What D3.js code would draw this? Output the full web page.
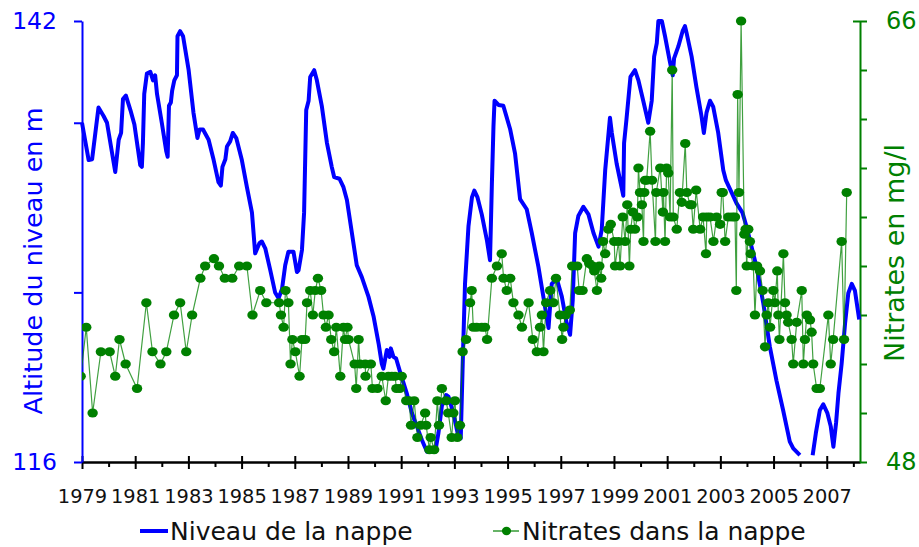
<!DOCTYPE html>
<html>
<head>
<meta charset="utf-8">
<script src="https://cdn.jsdelivr.net/npm/d3@7"></script>
<style>
    body { margin: 0; background: #fff; }
    svg text { font-family: "DejaVu Sans", Verdana, sans-serif; }
</style>
</head>
<body>
<div id="chart"></div>
<script>

// Niveau de la nappe (m), [année décimale, altitude] ; null = pas de mesure
const niveau = [
    [1979.00, 136.0], [1979.25, 133.8], [1979.38, 133.85], [1979.62, 136.9], [1979.81, 136.4],
    [1979.94, 136.0], [1980.25, 133.1], [1980.38, 135.0], [1980.47, 135.4], [1980.54, 137.4],
    [1980.65, 137.6], [1980.82, 136.75], [1980.97, 135.9], [1981.19, 133.5], [1981.25, 133.4],
    [1981.29, 134.8], [1981.34, 137.7], [1981.44, 138.9], [1981.57, 139.0], [1981.67, 138.5],
    [1981.75, 138.8], [1981.82, 137.7], [1982.00, 136.0], [1982.17, 134.3], [1982.22, 134.0],
    [1982.27, 137.0], [1982.34, 137.2], [1982.39, 137.9], [1982.47, 138.5], [1982.57, 138.8],
    [1982.59, 141.1], [1982.69, 141.4], [1982.80, 141.1], [1983.01, 139.1], [1983.19, 136.6],
    [1983.34, 135.1], [1983.42, 135.6], [1983.55, 135.6], [1983.76, 135.0], [1983.95, 133.8],
    [1984.13, 132.5], [1984.22, 132.3], [1984.28, 133.4], [1984.39, 133.85], [1984.45, 134.6],
    [1984.57, 134.9], [1984.67, 135.4], [1984.80, 135.1], [1985.01, 133.8], [1985.20, 132.2],
    [1985.39, 130.7], [1985.51, 128.3], [1985.67, 128.9], [1985.76, 129.0], [1985.89, 128.6],
    [1986.08, 127.3], [1986.26, 126.0], [1986.39, 125.65], [1986.52, 126.2], [1986.64, 127.6],
    [1986.76, 128.4], [1986.95, 128.4], [1987.08, 127.2], [1987.14, 127.3], [1987.27, 128.5],
    [1987.35, 130.7], [1987.43, 136.75], [1987.52, 137.3], [1987.58, 138.7], [1987.73, 139.1],
    [1987.83, 138.5], [1988.02, 136.95], [1988.21, 134.8], [1988.39, 133.4], [1988.48, 132.8],
    [1988.68, 132.7], [1988.83, 132.2], [1988.96, 131.45], [1989.33, 127.6], [1989.52, 126.9],
    [1989.77, 125.75], [1989.96, 124.6], [1990.15, 123.0], [1990.27, 121.8], [1990.33, 121.5],
    [1990.46, 122.6], [1990.56, 122.2], [1990.61, 122.7], [1990.71, 122.2], [1990.81, 122.1],
    [1990.96, 121.3], [1991.21, 120.05], [1991.40, 118.9], [1991.59, 118.1], [1991.78, 117.3],
    [1991.97, 116.6], [1992.28, 116.6], [1992.40, 117.7], [1992.53, 119.3], [1992.69, 119.95],
    [1992.78, 119.85], [1992.96, 118.9], [1993.15, 117.5], [1993.24, 117.4], [1993.32, 122.2],
    [1993.40, 126.5], [1993.53, 129.9], [1993.66, 131.6], [1993.75, 132.0], [1993.87, 131.6],
    [1994.03, 130.6], [1994.22, 129.1], [1994.34, 127.9], [1994.41, 132.4], [1994.47, 135.8],
    [1994.51, 137.3], [1994.66, 137.05], [1994.84, 137.0], [1995.10, 135.6], [1995.28, 134.2],
    [1995.47, 131.5], [1995.72, 130.9], [1995.91, 129.5], [1996.16, 127.5], [1996.35, 125.7],
    [1996.54, 123.9], [1996.66, 126.5], [1996.85, 126.8], [1997.04, 125.75], [1997.22, 124.2],
    [1997.35, 123.5], [1997.45, 125.55], [1997.54, 129.5], [1997.66, 130.5], [1997.85, 131.05],
    [1998.04, 130.6], [1998.23, 129.5], [1998.42, 128.7], [1998.54, 129.7], [1998.67, 133.2],
    [1998.85, 136.3], [1998.92, 135.4], [1999.10, 133.6], [1999.35, 131.7], [1999.38, 134.8],
    [1999.47, 136.2], [1999.62, 138.7], [1999.79, 139.1], [1999.92, 138.5], [2000.10, 137.3],
    [2000.29, 136.0], [2000.42, 137.3], [2000.51, 139.9], [2000.61, 140.7], [2000.67, 142.0],
    [2000.80, 142.0], [2000.92, 141.1], [2001.09, 139.7], [2001.21, 138.8], [2001.26, 139.8],
    [2001.42, 140.5], [2001.58, 141.4], [2001.67, 141.7], [2001.73, 141.3], [2001.92, 139.9],
    [2002.10, 138.1], [2002.29, 136.4], [2002.38, 135.4], [2002.48, 136.6], [2002.61, 137.3],
    [2002.73, 136.95], [2002.92, 135.4], [2003.11, 133.2], [2003.21, 132.6], [2003.42, 131.9],
    [2003.61, 131.25], [2003.83, 130.7], [2003.98, 129.9], [2004.17, 128.7], [2004.36, 127.5],
    [2004.61, 125.4], [2004.86, 122.8], [2005.11, 120.8], [2005.36, 119.05], [2005.61, 117.2],
    [2005.74, 116.8], [2005.99, 116.4], [2006.20, null], [2006.47, 116.4], [2006.59, 117.7],
    [2006.74, 119.05], [2006.87, 119.4], [2007.02, 118.9], [2007.15, 118.1], [2007.25, 116.9],
    [2007.35, 118.3], [2007.44, 120.05], [2007.56, 121.8], [2007.69, 124.2], [2007.81, 125.95],
    [2007.94, 126.5], [2008.06, 126.1], [2008.22, 124.4]
];

// Nitrates dans la nappe (mg/l), [année décimale, teneur]
const nitrates = [
    [1978.95, 51.5], [1979.16, 53.5], [1979.40, 50.0], [1979.71, 52.5], [1980.04, 52.5],
    [1980.25, 51.5], [1980.41, 53.0], [1980.64, 52.0], [1981.07, 51.0], [1981.42, 54.5],
    [1981.65, 52.5], [1981.95, 52.0], [1982.17, 52.5], [1982.46, 54.0], [1982.69, 54.5],
    [1982.92, 52.5], [1983.14, 54.0], [1983.45, 55.5], [1983.63, 56.0], [1983.96, 56.3],
    [1984.15, 56.0], [1984.37, 55.5], [1984.65, 55.5], [1984.91, 56.0], [1985.20, 56.0],
    [1985.41, 54.0], [1985.70, 55.0], [1985.93, 54.5], [1986.41, 54.5], [1986.48, 54.0],
    [1986.58, 53.5], [1986.65, 55.0], [1986.76, 54.5], [1986.84, 52.0], [1986.91, 53.0],
    [1987.02, 52.5], [1987.18, 51.5], [1987.27, 53.0], [1987.39, 53.0], [1987.46, 54.5],
    [1987.58, 55.0], [1987.68, 54.0], [1987.77, 55.0], [1987.87, 55.5], [1987.99, 55.0],
    [1988.08, 54.0], [1988.17, 53.5], [1988.27, 54.0], [1988.37, 53.0], [1988.48, 52.5],
    [1988.56, 53.5], [1988.71, 51.5], [1988.83, 53.5], [1988.89, 53.0], [1988.98, 53.5],
    [1989.02, 53.0], [1989.25, 52.0], [1989.31, 51.0], [1989.40, 53.0], [1989.45, 52.0],
    [1989.65, 52.0], [1989.66, 51.5], [1989.86, 52.0], [1989.92, 51.0], [1990.11, 51.0],
    [1990.27, 51.5], [1990.42, 50.5], [1990.52, 51.5], [1990.65, 51.5], [1990.77, 51.5],
    [1990.82, 51.0], [1990.95, 51.0], [1991.02, 51.5], [1991.19, 50.5], [1991.30, 50.5],
    [1991.37, 49.5], [1991.49, 50.5], [1991.61, 49.0], [1991.74, 49.5], [1991.90, 50.0],
    [1991.94, 49.5], [1992.06, 48.5], [1992.11, 49.0], [1992.24, 48.5], [1992.36, 50.5],
    [1992.42, 49.5], [1992.53, 51.0], [1992.69, 50.5], [1992.77, 50.0], [1992.90, 49.0],
    [1992.96, 50.0], [1993.02, 50.5], [1993.11, 49.0], [1993.21, 49.5], [1993.31, 52.5],
    [1993.44, 53.0], [1993.59, 54.5], [1993.65, 55.0], [1993.71, 53.5], [1993.84, 53.5],
    [1994.03, 53.5], [1994.15, 53.5], [1994.23, 53.0], [1994.41, 55.5], [1994.60, 56.0],
    [1994.78, 56.5], [1994.85, 55.5], [1994.97, 55.0], [1995.10, 55.5], [1995.22, 54.5],
    [1995.41, 54.0], [1995.54, 53.5], [1995.79, 54.5], [1995.95, 53.0], [1996.10, 52.5],
    [1996.22, 53.5], [1996.29, 54.0], [1996.35, 52.5], [1996.45, 54.5], [1996.60, 55.0],
    [1996.72, 54.5], [1996.82, 55.5], [1996.97, 54.0], [1997.05, 53.0], [1997.10, 53.5],
    [1997.18, 54.0], [1997.34, 54.2], [1997.43, 56.0], [1997.62, 56.0], [1997.69, 55.0],
    [1997.82, 55.0], [1997.98, 56.3], [1998.07, 56.1], [1998.20, 56.0], [1998.26, 55.8],
    [1998.36, 55.0], [1998.45, 56.0], [1998.52, 55.5], [1998.59, 57.0], [1998.67, 56.5],
    [1998.79, 57.5], [1998.88, 57.7], [1999.01, 57.0], [1999.04, 56.0], [1999.17, 57.0],
    [1999.23, 56.0], [1999.33, 58.0], [1999.42, 57.0], [1999.50, 58.5], [1999.58, 56.0],
    [1999.63, 57.5], [1999.71, 58.2], [1999.79, 57.5], [1999.88, 58.0], [1999.92, 60.0],
    [1999.98, 59.0], [2000.05, 58.5], [2000.11, 57.0], [2000.14, 59.0], [2000.17, 59.5],
    [2000.23, 59.5], [2000.36, 61.5], [2000.43, 59.5], [2000.56, 57.0], [2000.59, 59.0],
    [2000.74, 60.0], [2000.84, 58.2], [2000.86, 59.0], [2000.92, 57.0], [2000.98, 60.0],
    [2001.04, 59.8], [2001.11, 58.0], [2001.19, 64.0], [2001.23, 58.0], [2001.36, 57.5],
    [2001.48, 59.0], [2001.55, 58.6], [2001.68, 61.0], [2001.74, 59.0], [2001.86, 58.5],
    [2001.92, 58.5], [2001.98, 57.5], [2002.09, 59.1], [2002.24, 57.5], [2002.35, 58.0],
    [2002.46, 56.5], [2002.49, 58.0], [2002.61, 58.0], [2002.74, 57.0], [2002.86, 58.0],
    [2002.99, 57.7], [2003.05, 59.0], [2003.09, 59.0], [2003.18, 57.0], [2003.30, 58.0],
    [2003.44, 58.0], [2003.55, 58.0], [2003.60, 55.0], [2003.65, 63.0], [2003.70, 59.0],
    [2003.78, 66.0], [2003.90, 57.3], [2003.95, 57.5], [2003.99, 56.0], [2004.05, 57.5],
    [2004.11, 57.0], [2004.14, 56.5], [2004.24, 56.0], [2004.30, 54.0], [2004.38, 56.0],
    [2004.49, 55.8], [2004.59, 55.0], [2004.68, 52.7], [2004.74, 54.0], [2004.80, 54.5],
    [2004.87, 53.5], [2004.99, 55.0], [2005.05, 54.5], [2005.14, 55.8], [2005.18, 54.0],
    [2005.22, 53.0], [2005.37, 56.5], [2005.43, 54.5], [2005.49, 54.0], [2005.55, 53.7],
    [2005.68, 53.0], [2005.74, 52.0], [2005.87, 53.7], [2006.06, 55.0], [2006.12, 52.0],
    [2006.18, 53.0], [2006.25, 54.0], [2006.37, 53.8], [2006.43, 53.3], [2006.49, 52.0],
    [2006.62, 51.0], [2006.74, 51.0], [2007.06, 54.0], [2007.15, 52.0], [2007.24, 53.0],
    [2007.56, 57.0], [2007.65, 53.0], [2007.75, 59.0]
];

const majorYears = [1979, 1981, 1983, 1985, 1987, 1989, 1991, 1993, 1995, 1997, 1999, 2001, 2003, 2005, 2007];
const minorYears = [1980, 1982, 1984, 1986, 1988, 1990, 1992, 1994, 1996, 1998, 2000, 2002, 2004, 2006, 2008];
const niveauTicks = [116, 126, 136, 142];
const niveauLabels = [116, 142];
const nitrateTicks = [48, 50, 52, 54, 56, 58, 60, 62, 64, 66];
const nitrateLabels = [48, 66];
const legendNames = ["Niveau de la nappe", "Nitrates dans la nappe"];


class NappeVis {

    constructor(_parentElement, _niveau, _nitrates) {
        this.parentElement = _parentElement;
        this.niveau = _niveau;
        this.nitrates = _nitrates;

        this.blue = "#0000ff";
        this.green = "#008000";

        this.initVis();
    }

    initVis() {
        let vis = this;

        vis.margin = { top: 21, right: 59, bottom: 85, left: 82 };
        vis.width = 919 - vis.margin.left - vis.margin.right;
        vis.height = 547 - vis.margin.top - vis.margin.bottom;

        vis.root = d3.select("#" + vis.parentElement).append("svg")
            .attr("width", 919)
            .attr("height", 547);

        vis.svg = vis.root.append("g")
            .attr("transform", "translate(" + vis.margin.left + "," + vis.margin.top + ")");

        vis.svg.append("clipPath")
            .attr("id", "plot-clip")
            .append("rect")
            .attr("x", 0)
            .attr("y", -vis.margin.top)
            .attr("width", vis.width + vis.margin.right)
            .attr("height", vis.height + vis.margin.top + 10);

        // Scales
        vis.x = d3.scaleLinear()
            .domain([1979, 2008.25])
            .range([0, vis.width]);
        vis.yNiveau = d3.scaleLinear()
            .domain([116, 142])
            .range([vis.height, 0]);
        vis.yNitrate = d3.scaleLinear()
            .domain([48, 66])
            .range([vis.height, 0]);

        vis.drawAxes();
        vis.drawSeries();
        vis.drawLegend();
    }

    drawAxes() {
        let vis = this;

        // x axis: minor ticks (below) and major ticks (crossing)
        let xMinor = d3.axisBottom(vis.x)
            .tickValues(minorYears)
            .tickSize(5)
            .tickSizeOuter(0)
            .tickFormat("");
        let gMinor = vis.svg.append("g")
            .attr("transform", "translate(0," + vis.height + ")")
            .call(xMinor);
        gMinor.select(".domain").remove();

        let xMajor = d3.axisBottom(vis.x)
            .tickValues(majorYears)
            .tickSize(7)
            .tickSizeOuter(0)
            .tickPadding(20)
            .tickFormat(d3.format("d"));
        let gx = vis.svg.append("g")
            .attr("class", "axis x-axis")
            .attr("transform", "translate(0," + vis.height + ")")
            .call(xMajor);
        gx.selectAll(".tick line").attr("y1", -6);
        gx.selectAll("text").style("font-size", "19.4px").attr("fill", "#111");

        [gMinor, gx].forEach(g => {
            g.selectAll("line").attr("stroke", "#000").attr("stroke-width", 2);
        });
        gx.select(".domain").attr("stroke", "#000").attr("stroke-width", 2.5);

        // left axis: altitude
        let yLeft = d3.axisLeft(vis.yNiveau)
            .tickValues(niveauTicks)
            .tickSize(8)
            .tickSizeOuter(0)
            .tickPadding(17)
            .tickFormat(d => niveauLabels.includes(d) ? d : "");
        let gl = vis.svg.append("g")
            .attr("class", "axis y-axis")
            .call(yLeft);
        gl.select(".domain").attr("stroke", vis.blue).attr("stroke-width", 2);
        gl.selectAll("line").attr("stroke", vis.blue).attr("stroke-width", 2);
        gl.selectAll("text").style("font-size", "23.5px").attr("fill", vis.blue);

        // right axis: nitrates
        let yRight = d3.axisRight(vis.yNitrate)
            .tickValues(nitrateTicks)
            .tickSize(7)
            .tickSizeOuter(0)
            .tickPadding(19)
            .tickFormat(d => nitrateLabels.includes(d) ? d : "");
        let gr = vis.svg.append("g")
            .attr("class", "axis y-axis-right")
            .attr("transform", "translate(" + vis.width + ",0)")
            .call(yRight);
        gr.select(".domain").attr("stroke", vis.green).attr("stroke-width", 2);
        gr.selectAll("line").attr("stroke", vis.green).attr("stroke-width", 2);
        gr.selectAll(".tick line").filter(d => d === 66).attr("x1", -7);
        gr.selectAll("text").style("font-size", "24px").attr("fill", vis.green);

        // axis titles
        vis.root.append("text")
            .attr("transform", "translate(42," + 261 + ") rotate(-90)")
            .attr("text-anchor", "middle")
            .attr("fill", vis.blue)
            .style("font-size", "25.5px")
            .text("Altitude du niveau en m");

        vis.root.append("text")
            .attr("transform", "translate(904," + 253 + ") rotate(-90)")
            .attr("text-anchor", "middle")
            .attr("fill", vis.green)
            .style("font-size", "27px")
            .text("Nitrates en mg/l");
    }

    drawSeries() {
        let vis = this;

        let lineNiveau = d3.line()
            .defined(d => d[1] !== null)
            .x(d => vis.x(d[0]))
            .y(d => vis.yNiveau(d[1]))
            .curve(d3.curveLinear);

        vis.svg.append("path")
            .datum(vis.niveau)
            .attr("class", "line-niveau")
            .attr("d", lineNiveau)
            .attr("fill", "none")
            .attr("stroke", vis.blue)
            .attr("stroke-width", 4)
            .attr("stroke-linejoin", "round");

        let lineNitrate = d3.line()
            .x(d => vis.x(d[0]))
            .y(d => vis.yNitrate(d[1]));

        let gN = vis.svg.append("g").attr("clip-path", "url(#plot-clip)");

        gN.append("path")
            .datum(vis.nitrates)
            .attr("d", lineNitrate)
            .attr("fill", "none")
            .attr("stroke", vis.green)
            .attr("stroke-opacity", 0.75)
            .attr("stroke-width", 1.2);

        gN.selectAll(".dot")
            .data(vis.nitrates)
            .enter()
            .append("ellipse")
            .attr("class", "dot")
            .attr("cx", d => vis.x(d[0]))
            .attr("cy", d => vis.yNitrate(d[1]))
            .attr("rx", 5.2)
            .attr("ry", 4.6)
            .attr("fill", vis.green);
    }

    drawLegend() {
        let vis = this;

        let lg = vis.root.append("g").attr("class", "legend");

        lg.append("line")
            .attr("x1", 140).attr("x2", 168)
            .attr("y1", 531).attr("y2", 531)
            .attr("stroke", vis.blue)
            .attr("stroke-width", 4);
        lg.append("text")
            .attr("x", 170).attr("y", 540)
            .style("font-size", "25px")
            .attr("fill", "#111")
            .text(legendNames[0]);

        lg.append("line")
            .attr("x1", 493).attr("x2", 519)
            .attr("y1", 531).attr("y2", 531)
            .attr("stroke", vis.green)
            .attr("stroke-width", 1.2);
        lg.append("ellipse")
            .attr("cx", 506.5).attr("cy", 531)
            .attr("rx", 4.6).attr("ry", 4.2)
            .attr("fill", vis.green);
        lg.append("text")
            .attr("x", 522).attr("y", 540)
            .style("font-size", "25px")
            .attr("fill", "#111")
            .text(legendNames[1]);
    }
}

new NappeVis("chart", niveau, nitrates);

</script>
</body>
</html>
